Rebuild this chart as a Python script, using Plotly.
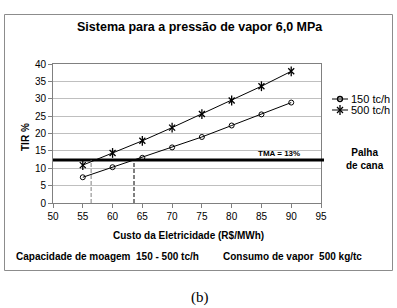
import plotly.graph_objects as go

# ---- data ----
custo = [55, 60, 65, 70, 75, 80, 85, 90]            # R$/MWh
tir_150 = [7.4, 10.3, 13.0, 16.0, 19.0, 22.3, 25.5, 28.9]
tir_500 = [10.9, 14.4, 17.9, 21.7, 25.6, 29.5, 33.6, 37.9]
serie_nomes = ["150 tc/h", "500 tc/h"]
tma = 12.4
tma_rotulo = "TMA = 13%"
cortes = [56.4, 63.6]          # break-even cost for 500 and 150 tc/h
cortes_cores = ["#808080", "#000000"]
x_ticks = list(range(50, 100, 5))
y_ticks = list(range(0, 45, 5))

W, H = 397, 308
FONT = "Liberation Sans, Arial, sans-serif"


def fx(px):
    return px / W


def fy(py):
    return 1 - py / H


fig = go.Figure()

fig.add_trace(go.Scatter(
    x=custo, y=tir_150, mode="lines+markers", showlegend=False, cliponaxis=False,
    line=dict(color="black", width=1),
    marker=dict(symbol="circle-open", size=5, color="black", line=dict(width=1, color="black")),
))
fig.add_trace(go.Scatter(
    x=custo, y=tir_500, mode="lines+markers", showlegend=False, cliponaxis=False,
    line=dict(color="black", width=1),
    marker=dict(symbol="x-thin-open", size=6, color="black", line=dict(width=1.3, color="black")),
))
fig.add_trace(go.Scatter(
    x=custo, y=tir_500, mode="markers", showlegend=False, cliponaxis=False,
    marker=dict(symbol="line-ns-open", size=7, color="black", line=dict(width=1.3, color="black")),
))

# ---- custom legend (glyphs on a pixel-space overlay axis) ----
leg_y = [99, 110]
leg_sym = [["circle-open"], ["x-thin-open", "line-ns-open"]]
leg_size = [[5], [6, 7]]
for i, nome in enumerate(serie_nomes):
    fig.add_trace(go.Scatter(
        x=[332, 348], y=[leg_y[i], leg_y[i]], xaxis="x3", yaxis="y3", mode="lines",
        line=dict(color="black", width=1), showlegend=False, hoverinfo="skip"))
    for s, sz in zip(leg_sym[i], leg_size[i]):
        fig.add_trace(go.Scatter(
            x=[340], y=[leg_y[i]], xaxis="x3", yaxis="y3", mode="markers",
            marker=dict(symbol=s, size=sz, color="black", line=dict(width=1.3, color="black")),
            showlegend=False, hoverinfo="skip"))

# chart frame as four paper-space lines
frame = [(4.5, 14.5, 392.5, 14.5), (392.5, 14.5, 392.5, 270.5),
         (392.5, 270.5, 4.5, 270.5), (4.5, 270.5, 4.5, 14.5)]
shapes = []
for x0, y0, x1, y1 in frame:
    shapes.append(dict(type="line", xref="paper", yref="paper",
                       x0=fx(x0), y0=fy(y0), x1=fx(x1), y1=fy(y1),
                       line=dict(color="#8c8c8c", width=1)))
# TMA line
shapes.append(dict(type="line", xref="paper", yref="y", x0=fx(53), x1=fx(324), y0=tma, y1=tma,
                   line=dict(color="black", width=3)))
for xc, cor in zip(cortes, cortes_cores):
    shapes.append(dict(type="line", xref="x", yref="y", x0=xc, x1=xc, y0=0, y1=tma,
                       line=dict(color=cor, width=1, dash="4px,2px")))

bold = dict(family=FONT, size=10, color="black", weight="bold")
annotations = [
    dict(text="Sistema para a pressão de vapor 6,0 MPa", x=fx(200), y=fy(27),
         font=dict(family=FONT, size=12.5, color="black", weight="bold")),
    dict(text="Custo da Eletricidade (R$/MWh)", x=fx(188), y=fy(235), font=bold),
    dict(text="TIR %", x=fx(25), y=fy(137), textangle=-90, font=bold),
    dict(text="Capacidade de moagem\u00a0\u00a0150 - 500 tc/h", x=fx(15), y=fy(256),
         xanchor="left", font=bold),
    dict(text="Consumo de vapor\u00a0\u00a0500 kg/tc", x=fx(222), y=fy(256),
         xanchor="left", font=bold),
    dict(text=tma_rotulo, x=fx(279), y=fy(153),
         font=dict(family=FONT, size=8, color="black", weight="bold")),
    dict(text="Palha<br>de cana", x=fx(365), y=fy(159), font=bold),
    dict(text="(b)", x=fx(200), y=fy(297),
         font=dict(family="Liberation Serif, Times New Roman, serif", size=15, color="black")),
]
for i, nome in enumerate(serie_nomes):
    annotations.append(dict(text=nome, x=fx(350), y=fy(leg_y[i]), xanchor="left",
                            font=dict(family=FONT, size=11, color="black")))
for a in annotations:
    a.setdefault("xref", "paper")
    a.setdefault("yref", "paper")
    a.setdefault("xanchor", "center")
    a.setdefault("yanchor", "middle")
    a.setdefault("showarrow", False)
    a.setdefault("borderpad", 0)

fig.update_layout(
    width=W, height=H,
    margin=dict(l=0, r=0, t=0, b=0, pad=0, autoexpand=False),
    paper_bgcolor="white", plot_bgcolor="rgba(0,0,0,0)",
    font=dict(family=FONT, size=10, color="black"),
    showlegend=False,
    xaxis=dict(domain=[fx(53), fx(321)], range=[50, 95], tickvals=x_ticks,
               ticks="outside", ticklen=4, tickcolor="#808080",
               showline=True, linecolor="#808080", linewidth=1, mirror=True,
               showgrid=False, zeroline=False, fixedrange=True,
               tickfont=dict(family=FONT, size=10, color="black")),
    yaxis=dict(domain=[fy(203), fy(64)], range=[0, 40], tickvals=y_ticks,
               ticks="outside", ticklen=4, tickcolor="#808080",
               showline=True, linecolor="#808080", linewidth=1, mirror=True,
               showgrid=True, gridcolor="#bfbfbf", gridwidth=1, zeroline=False,
               fixedrange=True, tickfont=dict(family=FONT, size=10, color="black")),
    xaxis3=dict(domain=[0, 1], range=[0, W], visible=False, anchor="y3", fixedrange=True),
    yaxis3=dict(domain=[0, 1], range=[H, 0], visible=False, anchor="x3", fixedrange=True),
    shapes=shapes,
    annotations=annotations,
)

fig.write_html(
    "out.html",
    config={"displayModeBar": False},
    post_script="document.body.style.margin='0px';document.body.style.overflow='hidden';",
)
